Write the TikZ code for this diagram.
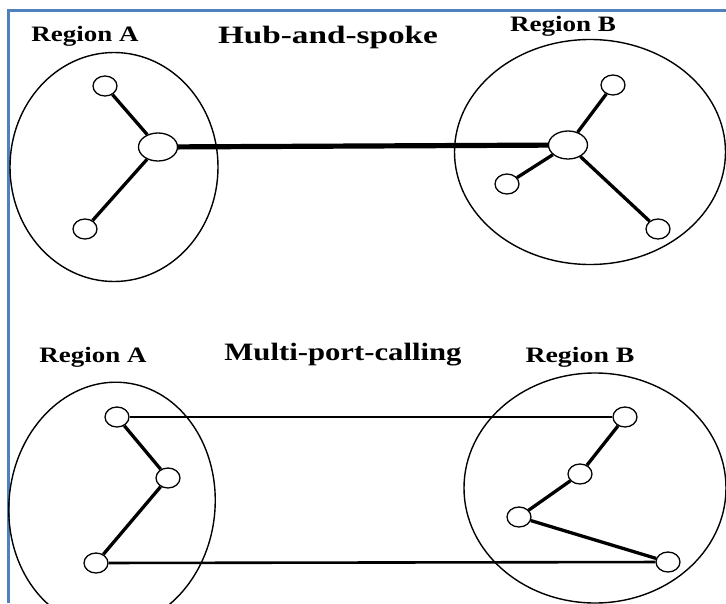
\documentclass[tikz,border=0pt]{standalone}
\usepackage{fontspec}
\setmainfont{Liberation Serif}
\usetikzlibrary{shapes.geometric}
\newcommand{\wtext}[2]{\resizebox{#1}{\height}{\textbf{#2}}}
\begin{document}
\begin{tikzpicture}[x=1pt,y=-1pt,
  region/.style={draw, ellipse, line width=1.4pt, inner sep=0pt},
  small/.style={draw, ellipse, fill=white, line width=1.3pt, minimum width=24pt, minimum height=20pt, inner sep=0pt},
  hub/.style={draw, ellipse, fill=white, line width=1.3pt, minimum width=39pt, minimum height=28pt, inner sep=0pt},
  spoke/.style={line width=3.3pt},
  trunk/.style={line width=5.2pt},
  cross/.style={line width=2.6pt},
  rlabel/.style={inner sep=0pt, anchor=base, font=\fontsize{22}{22}\selectfont},
  tlabel/.style={inner sep=0pt, anchor=base, font=\fontsize{25}{25}\selectfont}]
\useasboundingbox (0,0) rectangle (726,603);
\fill[white] (0,0) rectangle (726,603);
% frame
\draw[line width=3pt, color={rgb,255:red,79;green,129;blue,189}] (8,603) -- (8,10) -- (726,10);

% ---------- Hub-and-spoke ----------
\node[rlabel] (lblA1) at (85,41) {\wtext{107pt}{Region A}};
\node[tlabel] (title1) at (328,43) {\wtext{220pt}{Hub-and-spoke}};
\node[rlabel] (lblB1) at (563,31) {\wtext{106pt}{Region B}};

\node[region, minimum width=208pt, minimum height=229pt] (RA1) at (114,167) {};
\node[region, minimum width=271pt, minimum height=225pt] (RB1) at (590,152) {};

\node[hub] (ha) at (158,147) {};
\node[small] (a1) at (105,86) {};
\node[small] (a2) at (85,229) {};
\node[hub] (hb) at (568,145) {};
\node[small] (b1) at (613,85) {};
\node[small] (b2) at (507,184) {};
\node[small] (b3) at (658,229) {};

\draw[trunk] (ha) -- (hb);
\draw[spoke] (ha) -- (a1);
\draw[spoke] (ha) -- (a2);
\draw[spoke] (hb) -- (b1);
\draw[spoke] (hb) -- (b2);
\draw[spoke] (hb) -- (b3);

% ---------- Multi-port-calling ----------
\node[rlabel] (lblA2) at (93,362) {\wtext{107pt}{Region A}};
\node[tlabel] (title2) at (343,360) {\wtext{237pt}{Multi-port-calling}};
\node[rlabel] (lblB2) at (580,362) {\wtext{109pt}{Region B}};

\node[region, minimum width=206pt, minimum height=246pt, rotate=-6] (RA2) at (112,505) {};
\node[region, minimum width=262pt, minimum height=230pt] (RB2) at (595,488) {};

\node[small] (c1) at (117,417) {};
\node[small] (c2) at (168,478) {};
\node[small] (c3) at (96,563) {};
\node[small] (d1) at (625,417) {};
\node[small] (d2) at (580,474) {};
\node[small] (d3) at (519,517) {};
\node[small] (d4) at (668,562) {};

\draw[spoke] (c1) -- (c2);
\draw[spoke] (c2) -- (c3);
\draw[spoke] (d1) -- (d2);
\draw[spoke] (d2) -- (d3);
\draw[spoke] (d3) -- (d4);
\draw[cross] (c1) -- (d1);
\draw[cross] (c3) -- (d4);
\end{tikzpicture}
\end{document}
